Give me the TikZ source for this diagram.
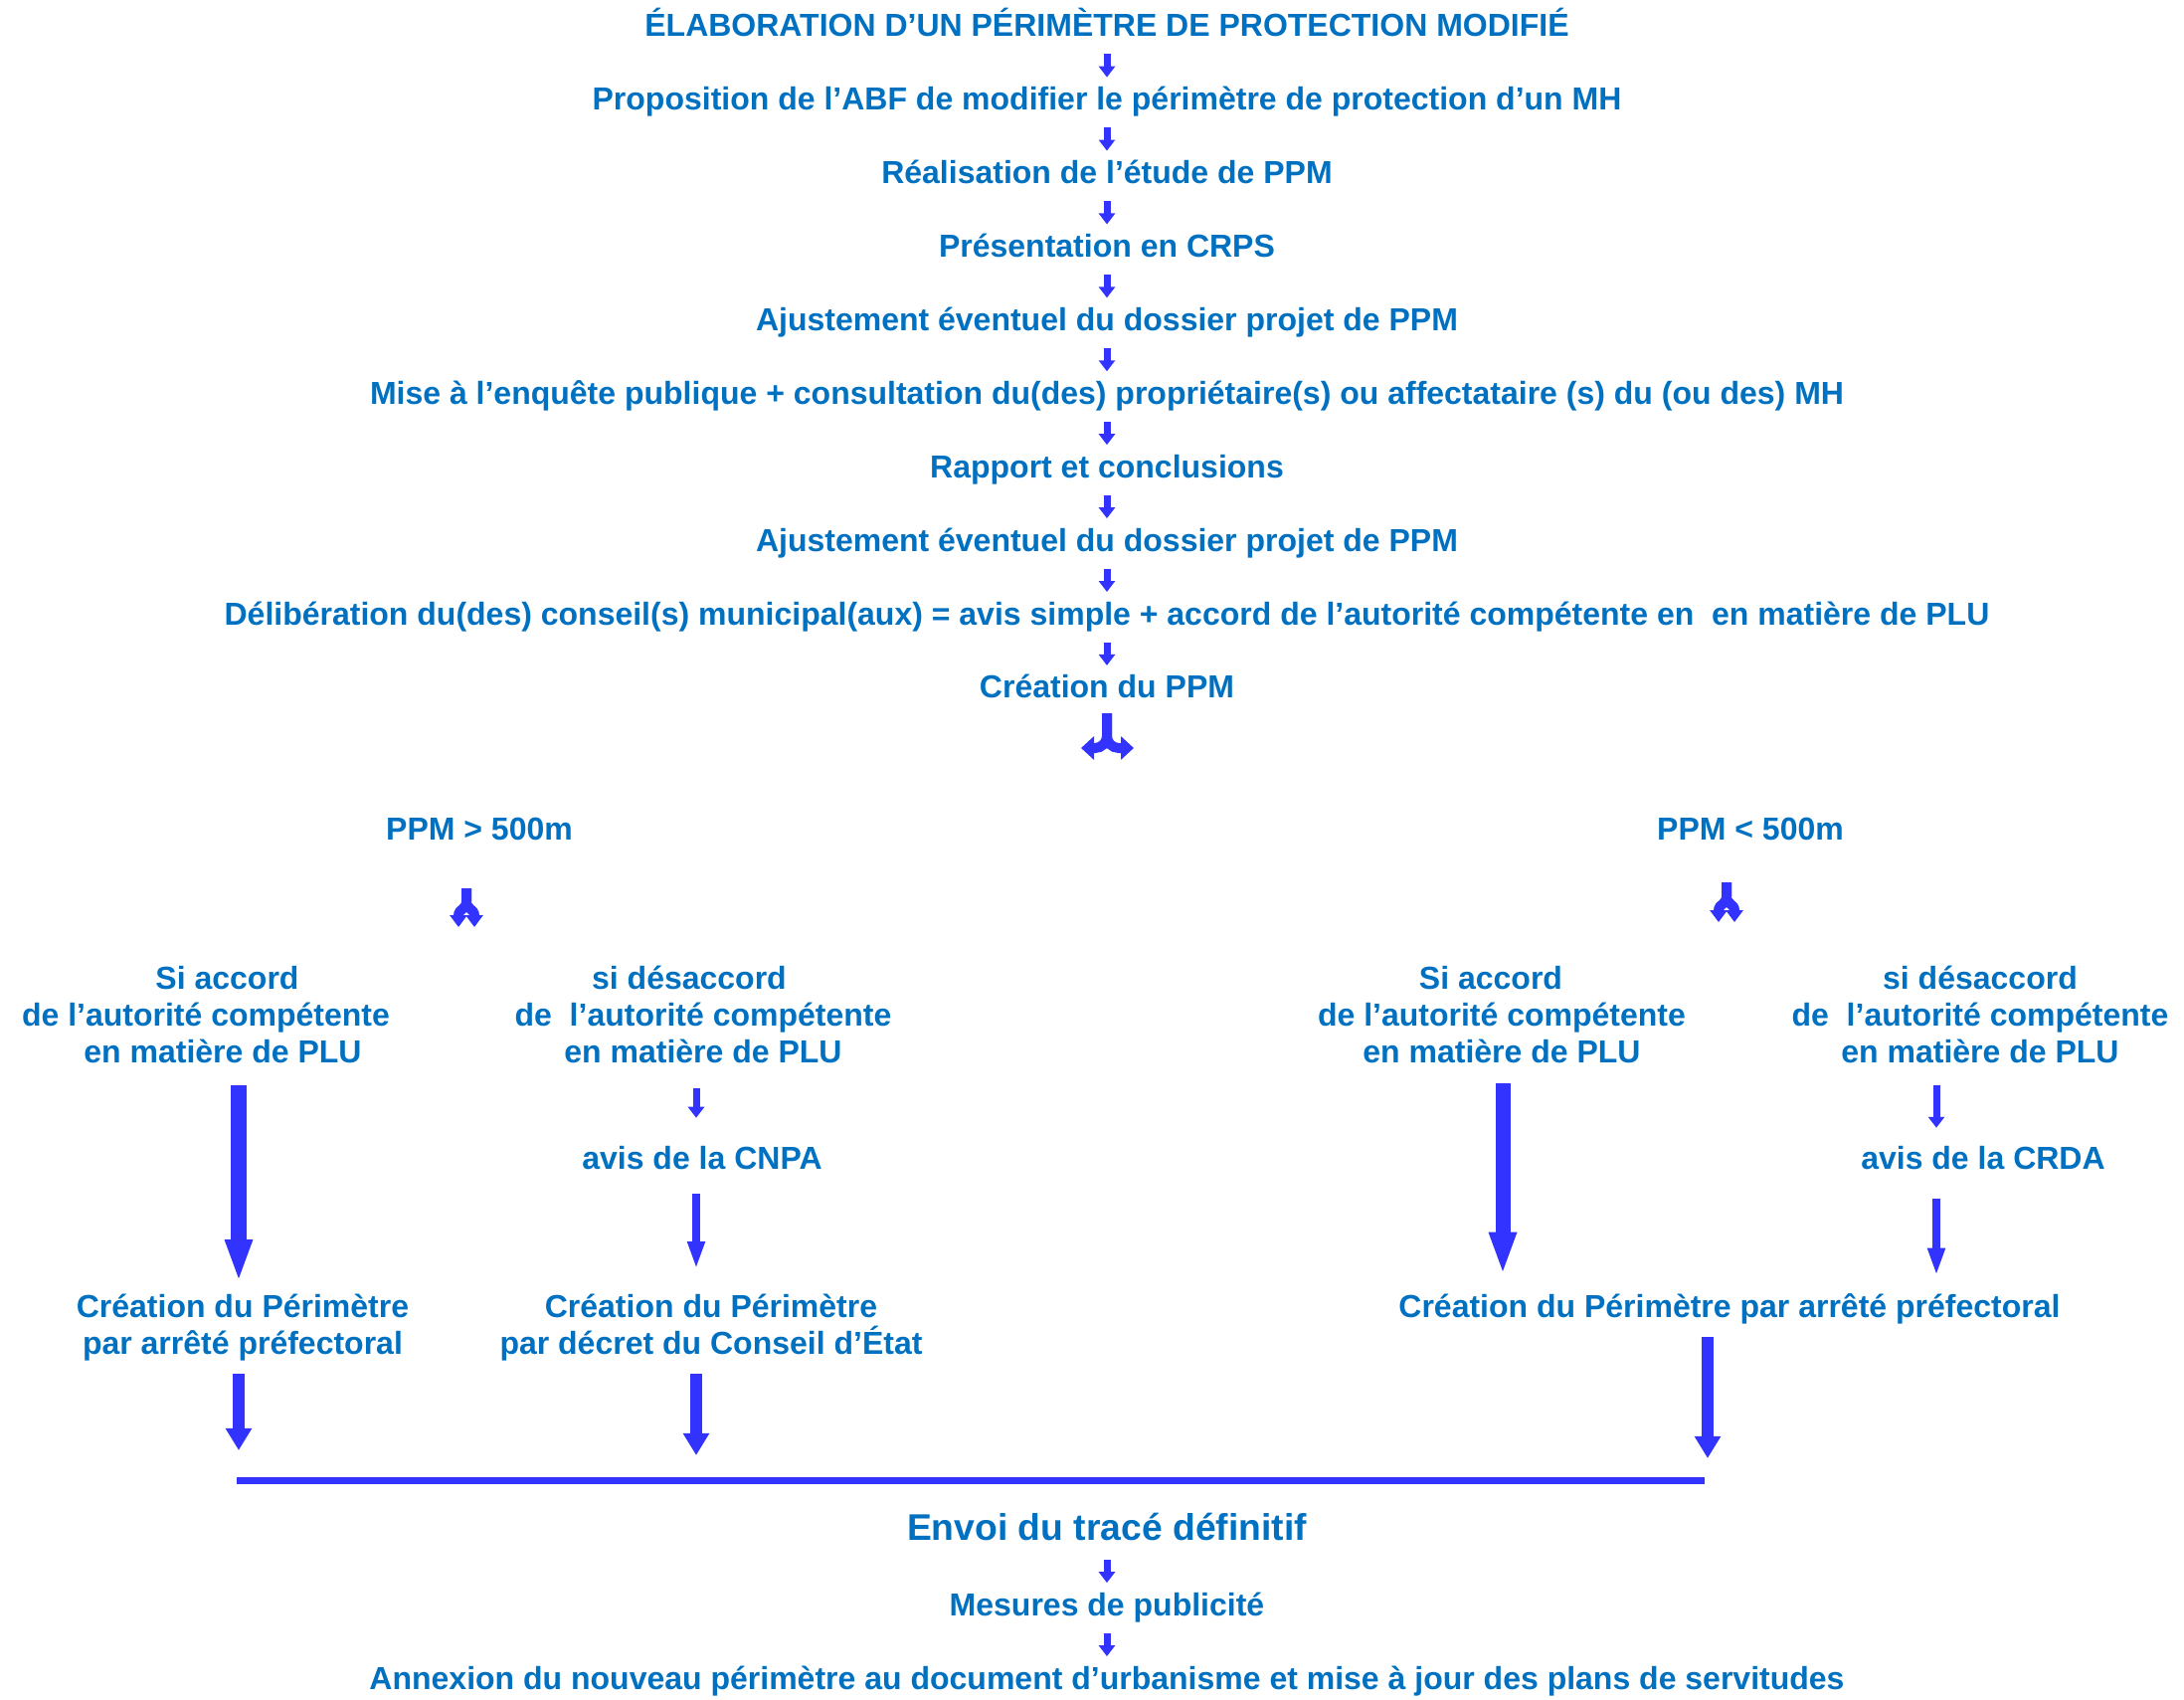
\documentclass[tikz,border=0pt]{standalone}
\usepackage{fontspec}
\setmainfont{Liberation Sans}
\usetikzlibrary{arrows.meta, positioning}
\definecolor{txtblue}{HTML}{0070C0}
\definecolor{arrblue}{HTML}{3333FF}

\begin{document}
\begin{tikzpicture}[
    x=0.01cm, y=-0.01cm,
    node distance=1.74mm,
    every node/.style={font=\fontsize{9.1}{10.5}\selectfont\bfseries, text=txtblue},
    row/.style={text height=7pt, text depth=2pt},
    block/.style={align=center},
    big/.style={font=\fontsize{10.6}{12}\selectfont\bfseries, text height=8.5pt, text depth=2.5pt},
    arrow/.style={arrblue, line width=0.07cm, shorten <=-0.02cm, shorten >=-0.04cm, -{Triangle[width=0.16cm, length=0.11cm]}},
    longarrow/.style={arrblue, line width=0.08cm, -{Triangle[width=0.16cm, length=0.28cm]}},
    endarrow/.style={arrblue, line width=0.12cm, -{Triangle[width=0.25cm, length=0.22cm]}},
    bigarrow/.style={arrblue, line width=0.15cm, -{Triangle[width=0.25cm, length=0.43cm]}},
    fork/.style={arrblue, line width=0.1cm},
    bar/.style={arrblue, line width=0.07cm}
  ]
  \useasboundingbox (0,0) rectangle (2196,1709);

  % procedure
  \node[row] (titre) at (1113,28) {ÉLABORATION D’UN PÉRIMÈTRE DE PROTECTION MODIFIÉ};
  \node[row, below=of titre] (prop) {Proposition de l’ABF de modifier le périmètre de protection d’un MH};
  \node[row, below=of prop] (etude) {Réalisation de l’étude de PPM};
  \node[row, below=of etude] (crps) {Présentation en CRPS};
  \node[row, below=of crps] (ajust1) {Ajustement éventuel du dossier projet de PPM};
  \node[row, below=of ajust1] (enquete) {Mise à l’enquête publique + consultation du(des) propriétaire(s) ou affectataire (s) du (ou des) MH};
  \node[row, below=of enquete] (rapport) {Rapport et conclusions};
  \node[row, below=of rapport] (ajust2) {Ajustement éventuel du dossier projet de PPM};
  \node[row, below=of ajust2] (delib) {Délibération du(des) conseil(s) municipal(aux) = avis simple + accord de l’autorité compétente en\ \ en matière de PLU};
  \node[row, below=of delib] (ppm) {Création du PPM};

  \draw[arrow] (titre) -- (prop);
  \draw[arrow] (prop) -- (etude);
  \draw[arrow] (etude) -- (crps);
  \draw[arrow] (crps) -- (ajust1);
  \draw[arrow] (ajust1) -- (enquete);
  \draw[arrow] (enquete) -- (rapport);
  \draw[arrow] (rapport) -- (ajust2);
  \draw[arrow] (ajust2) -- (delib);
  \draw[arrow] (delib) -- (ppm);

  % split
  \draw[fork, rounded corners=0.12cm, -{Triangle[width=0.23cm, length=0.13cm]}] (1113,717) |- (1087,752);
  \draw[fork, rounded corners=0.12cm, -{Triangle[width=0.23cm, length=0.13cm]}] (1113,717) |- (1140,752);

  \node[row] (sup) at (482,836) {PPM > 500m};
  \node[row] (inf) at (1760,836) {PPM < 500m};

  \draw[fork, -{Triangle[width=0.17cm, length=0.12cm]}] (469,893) -- (469,906) .. controls (469,915) and (461,913) .. (461,932);
  \draw[fork, -{Triangle[width=0.17cm, length=0.12cm]}] (469,893) -- (469,906) .. controls (469,915) and (477,913) .. (477,932);
  \draw[fork, -{Triangle[width=0.17cm, length=0.12cm]}] (1736,887) -- (1736,901) .. controls (1736,910) and (1728,908) .. (1728,927);
  \draw[fork, -{Triangle[width=0.17cm, length=0.12cm]}] (1736,887) -- (1736,901) .. controls (1736,910) and (1744,908) .. (1744,927);

  % PPM > 500m
  \node[block] (acc1) at (207,1020) {\hspace*{0.43cm}Si accord\\de l’autorité compétente\\\hspace*{0.34cm}en matière de PLU};
  \node[block] (des1) at (707,1020) {si désaccord\hspace*{0.28cm}\\de\ \ l’autorité compétente\\en matière de PLU};
  \node[row] (cnpa) at (706,1167) {avis de la CNPA};
  \node[block] (cre1) at (244,1335) {Création du Périmètre\\par arrêté préfectoral};
  \node[block] (cre2) at (715,1335) {Création du Périmètre\\par décret du Conseil d’État};

  % PPM < 500m
  \node[block] (acc2) at (1510,1020) {Si accord\hspace*{0.22cm}\\de l’autorité compétente\\en matière de PLU};
  \node[block] (des2) at (1991,1020) {si désaccord\\de\ \ l’autorité compétente\\en matière de PLU};
  \node[row] (crda) at (1994,1167) {avis de la CRDA};
  \node[row] (cre3) at (1739,1316) {Création du Périmètre par arrêté préfectoral};

  \coordinate (colA) at (240,0);
  \coordinate (colB) at (700,0);
  \coordinate (colC) at (1511,0);
  \coordinate (colD) at (1947,0);
  \coordinate (colE) at (1717,0);
  \coordinate (bl) at (238,1488);
  \coordinate (br) at (1714,1488);

  \draw[bigarrow, shorten <=0.1cm] (acc1.south -| colA) -- (cre1.north -| colA);
  \draw[arrow, shorten <=0.13cm, shorten >=0.15cm] (des1.south -| colB) -- (cnpa.north -| colB);
  \draw[longarrow, shorten <=0.05cm, shorten >=0.13cm] (cnpa.south -| colB) -- (cre2.north -| colB);
  \draw[bigarrow, shorten <=0.08cm, shorten >=0.06cm] (acc2.south -| colC) -- (cre3.north -| colC);
  \draw[arrow, shorten <=0.1cm, shorten >=0.05cm] (des2.south -| colD) -- (crda.north -| colD);
  \draw[longarrow, shorten <=0.1cm, shorten >=0.05cm] (crda.south -| colD) -- (cre3.north -| colD);

  \draw[endarrow, shorten >=0.3cm] (cre1.south -| colA) -- (bl -| colA);
  \draw[endarrow, shorten >=0.25cm] (cre2.south -| colB) -- (bl -| colB);
  \draw[endarrow, shorten >=0.22cm] (cre3.south -| colE) -- (bl -| colE);
  \draw[bar] (bl) -- (br);

  % suite commune
  \node[big] (envoi) at (1113,1538) {Envoi du tracé définitif};
  \node[row, below=of envoi] (pub) {Mesures de publicité};
  \node[row, below=of pub] (annex) {Annexion du nouveau périmètre au document d’urbanisme et mise à jour des plans de servitudes};

  \draw[arrow] (envoi) -- (pub);
  \draw[arrow] (pub) -- (annex);

\end{tikzpicture}
\end{document}
